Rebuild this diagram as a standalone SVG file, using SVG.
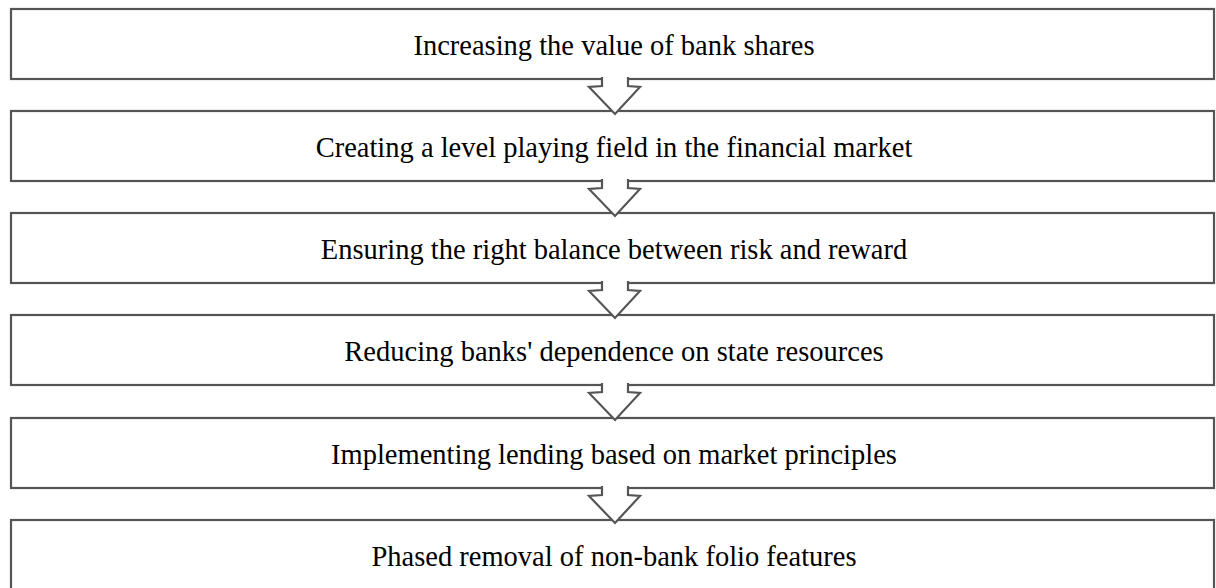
<svg xmlns="http://www.w3.org/2000/svg" width="1216" height="588" viewBox="0 0 1216 588">
<style>
.box{fill:#fff;stroke:#555;stroke-width:2.2}
.lbl{font-family:"Liberation Serif","Times New Roman",serif;font-size:28.5px;fill:#000;text-anchor:middle}
.af{fill:#fff;stroke:none}
.as{fill:none;stroke:#555;stroke-width:2.2;stroke-linejoin:miter}
</style>
<rect width="1216" height="588" fill="#fff"/>
<g id="n1"><rect class="box" x="11" y="9" width="1203" height="70"/><text class="lbl" x="614" y="55">Increasing the value of bank shares</text></g>
<g id="n2"><rect class="box" x="11" y="111" width="1203" height="70"/><text class="lbl" x="614" y="157">Creating a level playing field in the financial market</text></g>
<g id="n3"><rect class="box" x="11" y="213" width="1203" height="70"/><text class="lbl" x="614" y="259">Ensuring the right balance between risk and reward</text></g>
<g id="n4"><rect class="box" x="11" y="315" width="1203" height="70"/><text class="lbl" x="614" y="361">Reducing banks' dependence on state resources</text></g>
<g id="n5"><rect class="box" x="11" y="418" width="1203" height="70"/><text class="lbl" x="614" y="464">Implementing lending based on market principles</text></g>
<g id="n6"><rect class="box" x="11" y="520" width="1203" height="80"/><text class="lbl" x="614" y="566">Phased removal of non-bank folio features</text></g>
<g id="connectors">
<g transform="translate(0,0)"><polygon class="af" points="602,76 628,76 628,86 640,87 615,114 589,87 602,86"/><polyline class="as" points="602,77 602,86 589,87 615,114 640,87 628,86 628,77"/></g>
<g transform="translate(0,102)"><polygon class="af" points="602,76 628,76 628,86 640,87 615,114 589,87 602,86"/><polyline class="as" points="602,77 602,86 589,87 615,114 640,87 628,86 628,77"/></g>
<g transform="translate(0,204)"><polygon class="af" points="602,76 628,76 628,86 640,87 615,114 589,87 602,86"/><polyline class="as" points="602,77 602,86 589,87 615,114 640,87 628,86 628,77"/></g>
<g transform="translate(0,306)"><polygon class="af" points="602,76 628,76 628,86 640,87 615,114 589,87 602,86"/><polyline class="as" points="602,77 602,86 589,87 615,114 640,87 628,86 628,77"/></g>
<g transform="translate(0,409)"><polygon class="af" points="602,76 628,76 628,86 640,87 615,114 589,87 602,86"/><polyline class="as" points="602,77 602,86 589,87 615,114 640,87 628,86 628,77"/></g>
</g>
</svg>
